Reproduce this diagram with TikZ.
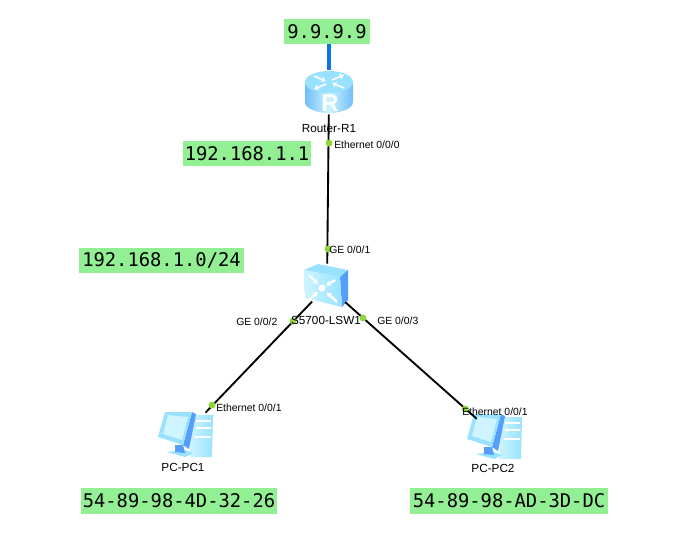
\documentclass[tikz,border=0pt]{standalone}
\usepackage{fontspec}
\setmainfont{Liberation Sans}
\newfontfamily\addrfont{DejaVu Sans Mono}
\usetikzlibrary{arrows.meta,calc}
\definecolor{addrgreen}{HTML}{93EF93}
\definecolor{dotgreen}{HTML}{8FD63A}
\definecolor{linkblue}{HTML}{0A78E0}
\definecolor{iconlight}{HTML}{CDF4FF}
\definecolor{iconmid}{HTML}{98E2FF}
\definecolor{icondark}{HTML}{70BEF8}
\definecolor{iconside}{HTML}{559FFA}

\begin{document}
\begin{tikzpicture}[x=0.75pt,y=-0.75pt,
    device node/.style={inner sep=0pt,minimum width=36pt,minimum height=33pt},
    addr node/.style={fill=addrgreen,inner sep=0pt,minimum height=19pt,font=\addrfont\fontsize{14.1}{15}\selectfont},
    device label/.style={inner sep=0pt,font=\fontsize{8.8}{10}\selectfont},
    port label/.style={inner sep=0pt,anchor=west,font=\fontsize{7.8}{9}\selectfont},
    port dot/.style={circle,fill=dotgreen,inner sep=0pt,minimum size=5.2pt},
    link/.style={line width=1.4pt,black},
    icon arrow/.style={white,line width=1.2pt,-{Stealth[length=3.5pt,width=4.5pt]}},
    router icon/.pic={
      \path[left color=icondark,right color=icondark,middle color=iconlight]
        (-24,-10) -- (-24,10) arc[start angle=180,end angle=360,x radius=24,y radius=-11] -- (24,-10) -- cycle;
      \fill[iconmid] (0,-10) ellipse[x radius=24,y radius=11];
      \draw[icon arrow] (-15,-16) -- (-3,-11);
      \draw[icon arrow] (15,-4) -- (3,-9);
      \draw[icon arrow] (3,-12) -- (15,-17);
      \draw[icon arrow] (-3,-8) -- (-15,-3);
      \node[white,inner sep=0pt,font=\bfseries\fontsize{18}{18}\selectfont] (r letter) at (1,11) {R};
    },
    switch icon/.pic={
      \fill[iconmid] (-23,-16) -- (-9,-22) -- (21,-16) -- (13,-9) -- cycle;
      \fill[iconside] (13,-9) -- (21,-16) -- (21,14) -- (15,21) -- cycle;
      \path[left color=iconlight,right color=iconmid] (-23,-16) -- (13,-9) -- (15,21) -- (-22,12) -- cycle;
      \fill[white] (-5,2) circle[radius=3.5];
      \foreach \a/\b in {-18/-11,8/-6,-18/14,10/16}
        \draw[icon arrow,line width=1.8pt] (\a,\b) -- ($(\a,\b)!0.68!(-5,2)$);
    },
    pc icon/.pic={
      \path[left color=iconlight,right color=iconmid] (6,-18) -- (27,-18) -- (26,24) -- (4,24) -- cycle;
      \fill[iconmid] (-19,19) -- (-1,17) -- (7,20) -- (-1,24) -- cycle;
      \fill[iconside] (-11,12) -- (-3,12) -- (-1,20) -- (-11,19) -- cycle;
      \fill[iconside] (6,-21) -- (10,-19) -- (3,16) -- (-3,12) -- cycle;
      \fill[iconmid] (-21,-21) -- (6,-21) -- (-3,12) -- (-28,4) -- cycle;
      \fill[iconlight] (-18,-18) -- (2,-16) -- (-4,7) -- (-23,1) -- cycle;
      \draw[white,line width=1pt] (10,-12) -- (25,-12) (10,-5) -- (25,-5) (9,4) -- (25,4);
    }]

  \useasboundingbox (0,0) rectangle (691,533);

  \pic at (329,92) {router icon};
  \pic at (327,286) {switch icon};
  \pic at (186,433) {pc icon};
  \pic at (495,435) {pc icon};

  \node[device node] (R1) at (329,92) {};
  \node[device node] (SW1) at (327,286) {};
  \node[device node] (PC1) at (186,433) {};
  \node[device node] (PC2) at (495,435) {};

  \node[addr node,minimum width=64.5pt] (ip0) at (327,31.5) {9.9.9.9};
  \node[addr node,minimum width=96pt] (ip1) at (247,153.5) {192.168.1.1};
  \node[addr node,minimum width=124pt] (net) at (161.5,260.5) {192.168.1.0/24};
  \node[addr node,minimum width=147pt] (mac1) at (179,501) {54-89-98-4D-32-26};
  \node[addr node,minimum width=148.5pt] (mac2) at (509,501) {54-89-98-AD-3D-DC};

  \draw[linkblue,line width=2.5pt] (R1.north |- ip0.south) -- (R1.north);
  \path[link]
    (R1) edge (SW1)
    (SW1) edge [shorten <=-7pt,shorten >=-2pt] (PC1)
    (SW1) edge [shorten <=-6pt,shorten >=-6pt] (PC2);

  \node[port dot] (d1) at (329,143) {};
  \node[port dot] (d2) at (328,249) {};
  \node[port dot] (d3) at (293,321) {};
  \node[port dot] (d4) at (363,318) {};
  \node[port dot] (d5) at (212,405) {};
  \node[port dot] (d6) at (465,409) {};

  \node[device label] (R1 name) at (329,129) {Router-R1};
  \node[device label] (SW1 name) at (326,320) {S5700-LSW1};
  \node[device label] (PC1 name) at (183,467) {PC-PC1};
  \node[device label] (PC2 name) at (493,468) {PC-PC2};

  \node[port label] (l1) at (334,145) {Ethernet 0/0/0};
  \node[port label] (l2) at (329,250) {GE 0/0/1};
  \node[port label] (l3) at (236,322) {GE 0/0/2};
  \node[port label] (l4) at (377,321) {GE 0/0/3};
  \node[port label] (l5) at (216,408) {Ethernet 0/0/1};
  \node[port label] (l6) at (462,412) {Ethernet 0/0/1};
\end{tikzpicture}
\end{document}
